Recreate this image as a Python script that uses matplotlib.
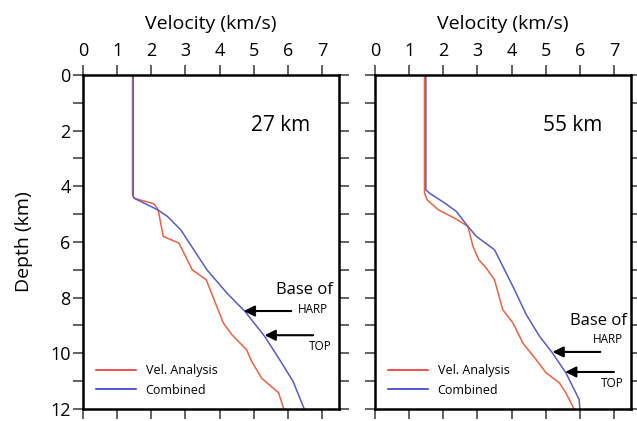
import numpy as np
import matplotlib.pyplot as plt

plt.rcParams['font.family'] = ['Open Sans', 'DejaVu Sans']

# 27 km profile
vel_27 = [1.45, 1.45, 1.50, 2.08, 2.20, 2.35, 2.81, 3.20, 3.61, 4.11, 4.36, 4.79, 4.94, 5.23, 5.73, 5.88]
dep_vel_27 = [0.0, 4.30, 4.43, 4.63, 4.84, 5.80, 6.04, 7.00, 7.36, 8.91, 9.33, 9.87, 10.29, 10.89, 11.42, 12.0]
comb_27 = [1.47, 1.47, 1.50, 2.18, 2.47, 2.86, 3.63, 4.21, 4.74, 5.32, 5.76, 6.15, 6.48]
dep_comb_27 = [0.0, 4.37, 4.43, 4.84, 5.08, 5.56, 7.00, 7.83, 8.49, 9.39, 10.23, 11.00, 12.0]

# 55 km profile
vel_55 = [1.45, 1.45, 1.53, 1.85, 2.38, 2.72, 2.87, 3.04, 3.26, 3.50, 3.74, 4.04, 4.33, 4.72, 5.01,
          5.40, 5.59, 5.83]
dep_vel_55 = [0.0, 4.25, 4.49, 4.84, 5.18, 5.44, 6.16, 6.64, 6.94, 7.36, 8.43, 8.91, 9.63, 10.23,
              10.70, 11.06, 11.42, 12.0]
comb_55 = [1.49, 1.49, 1.60, 2.04, 2.38, 2.72, 2.97, 3.50, 4.04, 4.43, 4.82, 5.20, 5.59, 5.98, 6.00]
dep_comb_55 = [0.0, 4.13, 4.25, 4.60, 4.90, 5.44, 5.80, 6.28, 7.60, 8.61, 9.39, 9.99, 10.70, 11.66, 12.0]

panels = [
    dict(label='27 km', vel=(vel_27, dep_vel_27), comb=(comb_27, dep_comb_27),
         base=(6.50, 7.73), harp=(6.74, 8.42), harp_arrow=(6.10, 4.71, 8.48),
         top=(6.95, 9.75), top_arrow=(6.74, 5.32, 9.35)),
    dict(label='55 km', vel=(vel_55, dep_vel_55), comb=(comb_55, dep_comb_55),
         base=(6.53, 8.85), harp=(6.82, 9.50), harp_arrow=(6.60, 5.20, 9.95),
         top=(6.95, 11.08), top_arrow=(7.00, 5.57, 10.67)),
]

red = '#f0603f'
blue = '#5a5ac6'

fig = plt.figure(figsize=(6.37, 4.21), dpi=100)
axes = [fig.add_axes([0.1303, 0.0285, 0.402, 0.7935]),
        fig.add_axes([0.5887, 0.0285, 0.402, 0.7935])]

for i, (ax, p) in enumerate(zip(axes, panels)):
    ax.plot(p['vel'][0], p['vel'][1], color=red, lw=1.1, label='Vel. Analysis')
    ax.plot(p['comb'][0], p['comb'][1], color=blue, lw=1.1, label='Combined')
    ax.set_xlim(0, 7.5)
    ax.set_ylim(12, 0)
    ax.xaxis.set_label_position('top')
    ax.set_xlabel('Velocity (km/s)', fontsize=14, labelpad=9)
    ax.set_xticks(np.arange(0, 8))
    ax.set_yticks(np.arange(0, 13, 2))
    ax.set_yticks(np.arange(1, 12, 2), minor=True)
    ax.tick_params(axis='x', which='both', top=True, bottom=True, labeltop=True,
                   labelbottom=False, direction='out', length=7, width=1.3,
                   color='#555555', labelsize=13, pad=4)
    ax.tick_params(axis='y', which='both', left=True, right=True, direction='out',
                   length=7, width=1.3, color='#555555', labelsize=13, pad=2)
    if i == 0:
        ax.set_ylabel('Depth (km)', fontsize=14, labelpad=12)
    else:
        ax.tick_params(axis='y', labelleft=False)
    for s in ax.spines.values():
        s.set_linewidth(1.8)

    ax.text(5.8, 1.8, p['label'], fontsize=15, ha='center', va='center')
    ax.text(p['base'][0], p['base'][1], 'Base of', fontsize=12, ha='center', va='center')
    ax.text(p['harp'][0], p['harp'][1], 'HARP', fontsize=8.5, ha='center', va='center')
    ax.text(p['top'][0], p['top'][1], 'TOP', fontsize=8.5, ha='center', va='center')
    for x0, x1, y in (p['harp_arrow'], p['top_arrow']):
        ax.annotate('', xy=(x1, y), xytext=(x0, y),
                    arrowprops=dict(arrowstyle='-|>', color='black', lw=1.5,
                                    mutation_scale=16, shrinkA=0, shrinkB=0))
    leg = ax.legend(loc='lower left', frameon=False, fontsize=9, handlelength=3.2,
                    handletextpad=0.8, borderaxespad=0.6, labelspacing=0.5)
    for h, c in zip(leg.get_lines(), ['#e82020', '#2828cc']):
        h.set_color(c)

fig.savefig('out.png', dpi=100)
